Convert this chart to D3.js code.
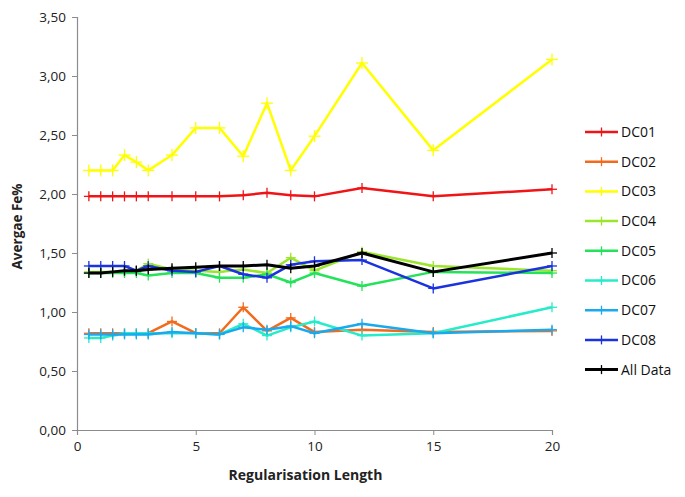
<!DOCTYPE html>
<html>
<head>
<meta charset="utf-8">
<script src="https://cdn.jsdelivr.net/npm/d3@7"></script>
<style>
  body { margin: 0; background: #fff; }
  text { font-family: "Open Sans", "Noto Sans", sans-serif; }
</style>
</head>
<body>
<div id="chart"></div>
<script>
// regularisation lengths
var lengths = [0.5, 1, 1.5, 2, 2.5, 3, 4, 5, 6, 7, 8, 9, 10, 12, 15, 20];

var dc01 = [1.98, 1.98, 1.98, 1.98, 1.98, 1.98, 1.98, 1.98, 1.98, 1.99, 2.01, 1.99, 1.98, 2.05, 1.98, 2.04];
var dc02 = [0.82, 0.82, 0.82, 0.82, 0.82, 0.82, 0.92, 0.82, 0.82, 1.04, 0.84, 0.95, 0.83, 0.85, 0.83, 0.84];
var dc03 = [2.20, 2.20, 2.20, 2.33, 2.27, 2.20, 2.33, 2.56, 2.56, 2.32, 2.77, 2.20, 2.49, 3.11, 2.37, 3.14];
var dc04 = [1.34, 1.34, 1.34, 1.34, 1.35, 1.41, 1.36, 1.35, 1.34, 1.36, 1.33, 1.46, 1.35, 1.51, 1.39, 1.35];
var dc05 = [1.33, 1.33, 1.33, 1.33, 1.33, 1.31, 1.33, 1.33, 1.29, 1.29, 1.32, 1.25, 1.33, 1.22, 1.34, 1.33];
var dc06 = [0.78, 0.78, 0.80, 0.82, 0.82, 0.82, 0.82, 0.82, 0.81, 0.90, 0.80, 0.87, 0.92, 0.80, 0.82, 1.04];
var dc07 = [0.81, 0.81, 0.81, 0.81, 0.81, 0.81, 0.83, 0.82, 0.81, 0.87, 0.85, 0.88, 0.82, 0.90, 0.82, 0.85];
var dc08 = [1.39, 1.39, 1.39, 1.39, 1.35, 1.39, 1.35, 1.34, 1.39, 1.32, 1.29, 1.40, 1.43, 1.44, 1.20, 1.39];
var allData = [1.33, 1.33, 1.34, 1.35, 1.35, 1.36, 1.37, 1.38, 1.39, 1.39, 1.40, 1.37, 1.39, 1.50, 1.34, 1.50];

var names = ["DC01", "DC02", "DC03", "DC04", "DC05", "DC06", "DC07", "DC08", "All Data"];
var values = [dc01, dc02, dc03, dc04, dc05, dc06, dc07, dc08, allData];
var colors = ["#f01416", "#f26b1d", "#ffff00", "#9be52b", "#24e35a", "#27ebc9", "#19a9ef", "#1a33de", "#000000"];

var xTicks = [0, 5, 10, 15, 20];
var yTicks = [0, 0.5, 1, 1.5, 2, 2.5, 3, 3.5];

var width = 685, height = 497;
var margin = {top: 17, left: 77};
var plotW = 475, plotH = 413;

var svg = d3.select("#chart").append("svg")
    .attr("width", width)
    .attr("height", height);

var g = svg.append("g")
    .attr("transform", "translate(" + margin.left + "," + margin.top + ")");

var x = d3.scaleLinear().domain([0, 20]).range([0, plotW]);
var y = d3.scaleLinear().domain([0, 3.5]).range([plotH, 0]);

var fmt = function(d) { return d3.format(".2f")(d).replace(".", ","); };

var yAxis = g.append("g")
    .call(d3.axisLeft(y).tickValues(yTicks).tickSize(5).tickPadding(6).tickFormat(fmt));
var xAxis = g.append("g")
    .attr("transform", "translate(0," + plotH + ")")
    .call(d3.axisBottom(x).tickValues(xTicks).tickSize(5).tickPadding(6));

[xAxis, yAxis].forEach(function(a) {
  a.select(".domain").attr("stroke", "#8c8c8c").attr("stroke-width", 1.2);
  a.selectAll(".tick line").attr("stroke", "#8c8c8c");
  a.selectAll(".tick text").attr("font-size", 13.5).attr("fill", "#222")
    .attr("font-family", "'Open Sans', sans-serif");
});

var line = d3.line()
    .x(function(d, i) { return x(lengths[i]); })
    .y(function(d) { return y(d); });

function cross(sel, cx, cy, size, color, w) {
  sel.append("line").attr("x1", cx - size).attr("x2", cx + size)
    .attr("y1", cy).attr("y2", cy).attr("stroke", color).attr("stroke-width", w);
  sel.append("line").attr("x1", cx).attr("x2", cx)
    .attr("y1", cy - size).attr("y2", cy + size).attr("stroke", color).attr("stroke-width", w);
}

// draw order: DC01..DC08 then All Data on top
values.forEach(function(vals, k) {
  var s = g.append("g");
  s.append("path")
    .datum(vals)
    .attr("fill", "none")
    .attr("stroke", colors[k])
    .attr("stroke-width", k === 8 ? 3 : 2.5)
    .attr("stroke-linejoin", "round")
    .attr("d", line);
  vals.forEach(function(v, i) {
    cross(s, x(lengths[i]), y(v), k === 2 ? 6 : 5, colors[k], 1.3);
  });
});

// axis titles
svg.append("text")
    .attr("x", margin.left + plotW / 2 - 9)
    .attr("y", 480)
    .attr("text-anchor", "middle")
    .attr("font-size", 14)
    .attr("font-weight", "bold")
    .attr("fill", "#222")
    .text("Regularisation Length");

svg.append("text")
    .attr("transform", "translate(22," + (margin.top + plotH / 2 + 3) + ") rotate(-90)")
    .attr("text-anchor", "middle")
    .attr("font-size", 13.5)
    .attr("font-weight", "bold")
    .attr("fill", "#222")
    .text("Avergae Fe%");

// legend
var legend = svg.append("g")
    .selectAll("g")
    .data(names)
    .enter().append("g")
      .attr("transform", function(d, i) { return "translate(585," + (132 + i * 29.7) + ")"; });

legend.append("line")
    .attr("x1", 0).attr("x2", 33).attr("y1", 0).attr("y2", 0)
    .attr("stroke", function(d, i) { return colors[i]; })
    .attr("stroke-width", function(d, i) { return i === 8 ? 3 : 2.5; });

legend.each(function(d, i) {
  cross(d3.select(this), 16.5, 0, 4.5, colors[i], 1.3);
});

legend.append("text")
    .attr("x", 36)
    .attr("y", 0)
    .attr("dy", "0.35em")
    .attr("font-size", 14)
    .attr("fill", "#111")
    .text(function(d) { return d; });
</script>
</body>
</html>
